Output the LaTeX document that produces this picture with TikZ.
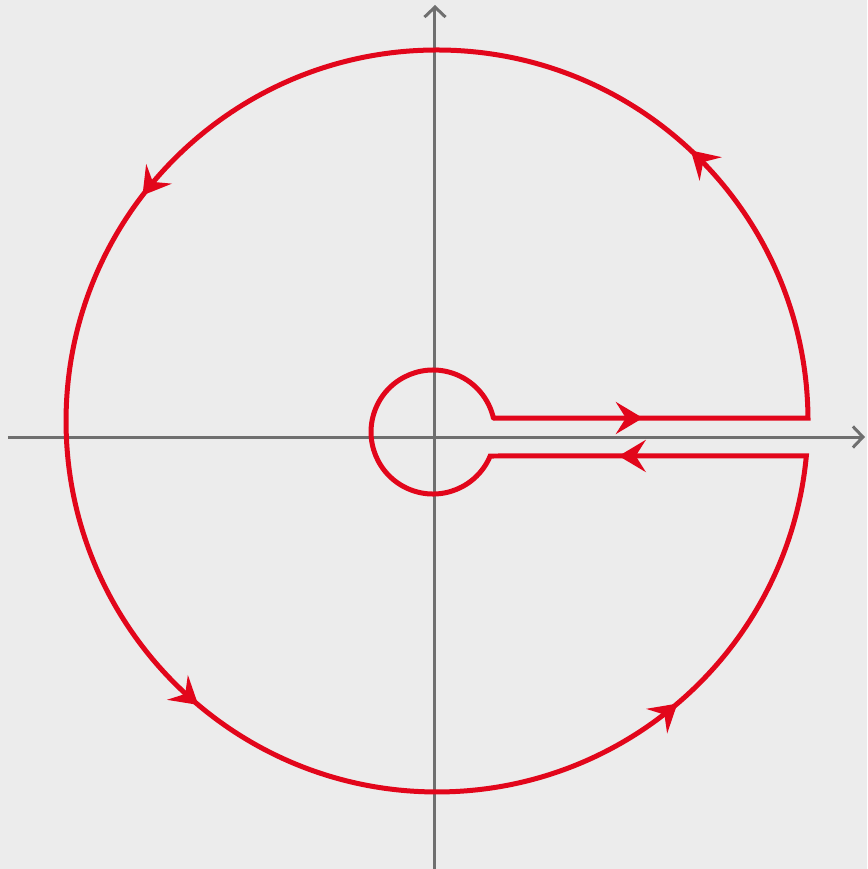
\documentclass[tikz,border=0pt]{standalone}
\usepackage{tikz}
\usetikzlibrary{arrows.meta,decorations.markings}
\definecolor{contred}{HTML}{E2061B}
\definecolor{axisgray}{HTML}{6F6F6F}
\definecolor{bggray}{HTML}{ECECEC}
\newcommand{\flowtip}{\arrow[contred]{Stealth[length=0.54cm,width=0.64cm,inset=0.2cm]}}
\tikzset{
  axis/.style={line width=0.06cm, axisgray, -{Straight Barb[length=0.2cm,width=0.42cm]}},
  contour/.style={line width=0.1cm, contred, line join=miter},
  flow/.style={postaction={decorate}, decoration={markings,
    mark=at position 2.99cm with {\flowtip},
    mark=at position 12.3cm with {\flowtip},
    mark=at position 24.7cm with {\flowtip},
    mark=at position 36.02cm with {\flowtip},
    mark=at position 46.44cm with {\flowtip},
    mark=at position 55.92cm with {\flowtip}}},
}

\begin{document}
\begin{tikzpicture}[x=0.02cm, y=0.02cm]

\useasboundingbox[fill=bggray] (-435,-432) rectangle (432,437);

% ===== axes =====
\coordinate (xl) at (-427,0);
\coordinate (xr) at (430,0);
\coordinate (yb) at (0,-432);
\coordinate (yt) at (0,432);
\draw[axis] (xl) -- (xr);
\draw[axis] (yb) -- (yt);

% ===== keyhole contour =====
\coordinate (cin) at (58.4,19);   % small circle -> upper line
\coordinate (cup) at (373,19);    % upper line -> big circle
\coordinate (clo) at (371.3,-19); % big circle -> lower line
\coordinate (cret) at (55.2,-19); % lower line -> small circle

\draw[contour, flow] (cin) -- (cup)
  arc[start angle=0.46, end angle=354.59, radius=371]
  -- (cret)
  arc[start angle=-22.77, end angle=-346.95, radius=62];
\fill[contred] (cin) circle[radius=2.5];

\end{tikzpicture}
\end{document}
